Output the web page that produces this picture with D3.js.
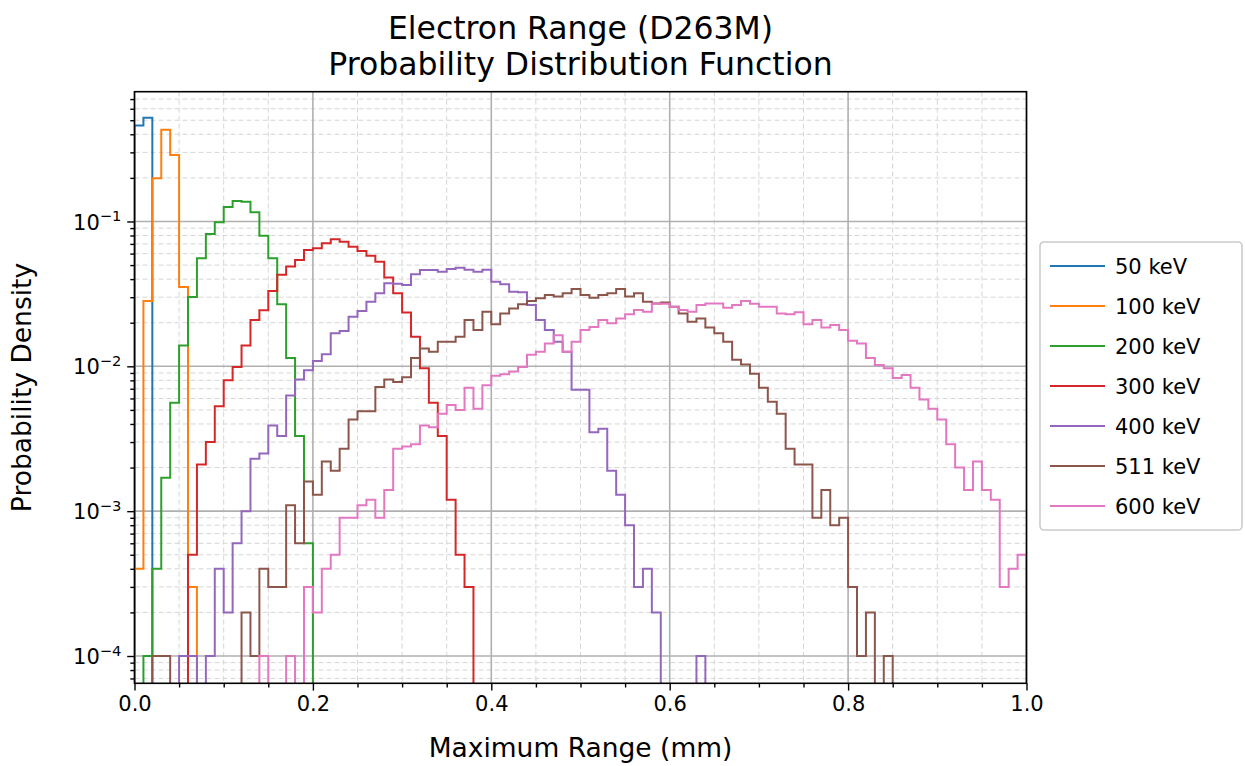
<!DOCTYPE html>
<html>
<head>
<meta charset="utf-8">
<script src="https://cdn.jsdelivr.net/npm/d3@7"></script>
<style>
  body { margin: 0; background: #fff; }
  svg { font-family: "DejaVu Sans", sans-serif; }
</style>
</head>
<body>
<svg id="chart" width="1245" height="766"></svg>
<script>
// Histogram bins: 100 bins of 0.01 mm covering 0 to 1 mm.
// Each array lists bin values from bin 0 onward; unlisted trailing bins are empty.
const binWidth = 0.01;
const binCount = 100;

const labels = ["50 keV", "100 keV", "200 keV", "300 keV", "400 keV", "511 keV", "600 keV"];
const colors = ["#1f77b4", "#ff7f0e", "#2ca02c", "#d62728", "#9467bd", "#8c564b", "#e377c2"];

const pdf50 = [0.459, 0.521];

const pdf100 = [0.0004, 0.0282, 0.199, 0.430, 0.288, 0.0353, 0.0003];

const pdf200 = [0, 0.0001, 0.0004, 0.0017, 0.0056, 0.0139, 0.0301, 0.0557, 0.082, 0.0987,
  0.126, 0.1385, 0.137, 0.1157, 0.0798, 0.0557, 0.0268, 0.0114, 0.0033, 0.0006];

const pdf300 = [0, 0, 0, 0, 0, 0, 0.0005, 0.0021, 0.0030, 0.0053,
  0.0080, 0.0099, 0.0139, 0.0209, 0.0244, 0.0331, 0.0428, 0.0488, 0.0542, 0.0636,
  0.0653, 0.0707, 0.0753, 0.0725, 0.0670, 0.0625, 0.0580, 0.0528, 0.0410, 0.0319,
  0.0235, 0.0160, 0.0097, 0.0056, 0.0033, 0.0012, 0.0005, 0.0003];

const pdf400 = [0, 0, 0, 0, 0, 0.0001, 0.0001, 0, 0.0001, 0.0004,
  0.0002, 0.0006, 0.0010, 0.0023, 0.0025, 0.0039, 0.0033, 0.0063, 0.0081, 0.0094,
  0.0109, 0.0121, 0.0169, 0.0175, 0.0220, 0.0241, 0.0279, 0.0319, 0.0374, 0.0372,
  0.0364, 0.0432, 0.0462, 0.0462, 0.0450, 0.0470, 0.0480, 0.0465, 0.0450, 0.0465,
  0.0384, 0.0368, 0.0327, 0.0324, 0.0265, 0.0209, 0.0178, 0.0148, 0.0126, 0.0069,
  0.0069, 0.0035, 0.0037, 0.0019, 0.0013, 0.0008, 0.0003, 0.0004, 0.0002, 0,
  0, 0, 0, 0.0001];

const pdf511 = [0, 0, 0.0001, 0.0001, 0, 0, 0, 0, 0, 0,
  0, 0, 0.0002, 0.0001, 0.0004, 0.0003, 0.0003, 0.0011, 0.0006, 0.0016,
  0.0013, 0.0022, 0.0019, 0.0027, 0.0043, 0.0049, 0.0049, 0.0072, 0.0081, 0.0078,
  0.0084, 0.0114, 0.0133, 0.0126, 0.0148, 0.0148, 0.0160, 0.0209, 0.0178, 0.0238,
  0.0195, 0.0232, 0.0251, 0.0268, 0.0282, 0.0295, 0.0311, 0.0303, 0.0319, 0.0342,
  0.0311, 0.0298, 0.0311, 0.0319, 0.0342, 0.0303, 0.0319, 0.0279, 0.0272, 0.0276,
  0.0258, 0.0232, 0.0203, 0.0214, 0.0185, 0.0169, 0.0148, 0.0111, 0.0103, 0.0089,
  0.0071, 0.0057, 0.0047, 0.0027, 0.0021, 0.0021, 0.0009, 0.0014, 0.0008, 0.0009,
  0.0003, 0.0001, 0.0002, 0, 0.0001];

const pdf600 = [0, 0, 0, 0, 0, 0, 0, 0, 0, 0,
  0, 0, 0, 0, 0.0001, 0, 0, 0.0001, 0, 0.0003,
  0.0002, 0.0004, 0.0005, 0.0009, 0.0009, 0.0011, 0.0012, 0.0009, 0.0014, 0.0027,
  0.0028, 0.0029, 0.0039, 0.0038, 0.0047, 0.0054, 0.0050, 0.0071, 0.0051, 0.0074,
  0.0086, 0.0088, 0.0092, 0.0099, 0.0120, 0.0126, 0.0144, 0.0164, 0.0126, 0.0148,
  0.0178, 0.0187, 0.0209, 0.0198, 0.0214, 0.0229, 0.0245, 0.0238, 0.0272, 0.0270,
  0.0258, 0.0245, 0.0238, 0.0265, 0.0272, 0.0272, 0.0254, 0.0265, 0.0282, 0.0270,
  0.0258, 0.0258, 0.0232, 0.0229, 0.0236, 0.0195, 0.0209, 0.0185, 0.0193, 0.0178,
  0.0150, 0.0144, 0.0114, 0.0102, 0.0097, 0.0083, 0.0087, 0.0071, 0.0059, 0.0051,
  0.0043, 0.0029, 0.0020, 0.0014, 0.0022, 0.0014, 0.0012, 0.0003, 0.0004, 0.0005];

const seriesValues = [pdf50, pdf100, pdf200, pdf300, pdf400, pdf511, pdf600];

// Axis ticks
const xMajorTicks = [0, 0.2, 0.4, 0.6, 0.8, 1.0];
const xMinorTicks = [0.05, 0.1, 0.15, 0.25, 0.3, 0.35, 0.45, 0.5, 0.55, 0.65, 0.7, 0.75, 0.85, 0.9, 0.95];
const yMajorTicks = [1e-4, 1e-3, 1e-2, 1e-1];
const yMajorExponents = ["−4", "−3", "−2", "−1"];
const yDomain = [6.48e-5, 0.787];

// Layout
const plot = { left: 134.5, right: 1026.5, top: 91.7, bottom: 683.3 };
const svg = d3.select("#chart");

const x = d3.scaleLinear().domain([0, 1]).range([plot.left, plot.right]);
const y = d3.scaleLog().domain(yDomain).range([plot.bottom, plot.top]);

const yMinorTicks = [];
for (let e = -5; e <= -1; e++) {
  for (let m = 2; m <= 9; m++) {
    const v = m * Math.pow(10, e);
    if (v >= yDomain[0] && v <= yDomain[1]) yMinorTicks.push(v);
  }
}

svg.append("defs").append("clipPath").attr("id", "plotClip")
  .append("rect")
  .attr("x", plot.left).attr("y", plot.top)
  .attr("width", plot.right - plot.left).attr("height", plot.bottom - plot.top);

// Grid: minor dashed, major solid
const grid = svg.append("g");
grid.selectAll(".gxm").data(xMinorTicks).join("line")
  .attr("x1", d => x(d)).attr("x2", d => x(d))
  .attr("y1", plot.top).attr("y2", plot.bottom)
  .attr("stroke", "#d6d6d6").attr("stroke-width", 1).attr("stroke-dasharray", "5,3");
grid.selectAll(".gym").data(yMinorTicks).join("line")
  .attr("x1", plot.left).attr("x2", plot.right)
  .attr("y1", d => y(d)).attr("y2", d => y(d))
  .attr("stroke", "#d6d6d6").attr("stroke-width", 1).attr("stroke-dasharray", "5,3");
grid.selectAll(".gxM").data(xMajorTicks).join("line")
  .attr("x1", d => x(d)).attr("x2", d => x(d))
  .attr("y1", plot.top).attr("y2", plot.bottom)
  .attr("stroke", "#b0b0b0").attr("stroke-width", 1.6);
grid.selectAll(".gyM").data(yMajorTicks).join("line")
  .attr("x1", plot.left).attr("x2", plot.right)
  .attr("y1", d => y(d)).attr("y2", d => y(d))
  .attr("stroke", "#b0b0b0").attr("stroke-width", 1.6);

// Step outlines of each histogram
const belowAxis = plot.bottom + 40;
const yv = v => (v > 0 ? y(v) : belowAxis);
const line = d3.line().x(d => d[0]).y(d => d[1]);

const lines = svg.append("g").attr("clip-path", "url(#plotClip)");
seriesValues.forEach((vals, s) => {
  const pts = [[x(0), belowAxis]];
  for (let i = 0; i < binCount; i++) {
    const v = i < vals.length ? vals[i] : 0;
    pts.push([x(i * binWidth), yv(v)]);
    pts.push([x((i + 1) * binWidth), yv(v)]);
  }
  pts.push([x(binCount * binWidth), belowAxis]);
  lines.append("path")
    .attr("d", line(pts))
    .attr("fill", "none")
    .attr("stroke", colors[s])
    .attr("stroke-width", 2)
    .attr("stroke-linejoin", "miter");
});

// Axes
const tickFont = 21;
const xAxis = d3.axisBottom(x).tickValues(xMajorTicks).tickSize(7.3).tickPadding(5.5)
  .tickFormat(d3.format(".1f"));
const xAxisMinor = d3.axisBottom(x).tickValues(xMinorTicks).tickSize(4.2).tickFormat("");
const yAxis = d3.axisLeft(y).tickValues(yMajorTicks).tickSize(7.3).tickPadding(5.8).tickFormat("");
const yAxisMinor = d3.axisLeft(y).tickValues(yMinorTicks).tickSize(4.2).tickFormat("");

function styleAxis(g) {
  g.select(".domain").remove();
  g.selectAll(".tick line").attr("stroke", "#000").attr("stroke-width", 1.4);
  g.selectAll(".tick text").attr("fill", "#000").attr("font-size", tickFont)
    .attr("font-family", "DejaVu Sans");
}

svg.append("g").attr("transform", `translate(0,${plot.bottom})`).call(xAxisMinor).call(styleAxis);
svg.append("g").attr("transform", `translate(0,${plot.bottom})`).call(xAxis).call(styleAxis);
svg.append("g").attr("transform", `translate(${plot.left},0)`).call(yAxisMinor).call(styleAxis);
const yg = svg.append("g").attr("transform", `translate(${plot.left},0)`).call(yAxis).call(styleAxis);

yg.selectAll(".tick text").each(function(d, i) {
  const t = d3.select(this);
  t.text(null).attr("dy", "0.36em");
  t.append("tspan").text("10");
  t.append("tspan").attr("dy", "-0.55em").attr("font-size", tickFont * 0.7).text(yMajorExponents[i]);
});

// Plot frame
svg.append("rect")
  .attr("x", plot.left).attr("y", plot.top)
  .attr("width", plot.right - plot.left).attr("height", plot.bottom - plot.top)
  .attr("fill", "none").attr("stroke", "#000").attr("stroke-width", 1.6);

// Axis labels
svg.append("text")
  .attr("x", (plot.left + plot.right) / 2).attr("y", 757)
  .attr("text-anchor", "middle").attr("font-size", 26.5).attr("fill", "#000")
  .text("Maximum Range (mm)");

svg.append("text")
  .attr("transform", `translate(31,${(plot.top + plot.bottom) / 2}) rotate(-90)`)
  .attr("text-anchor", "middle").attr("font-size", 26.5).attr("fill", "#000")
  .text("Probability Density");

// Title
const title = svg.append("text").attr("text-anchor", "middle").attr("font-size", 31.5).attr("fill", "#000");
title.append("tspan").attr("x", (plot.left + plot.right) / 2).attr("y", 39).text("Electron Range (D263M)");
title.append("tspan").attr("x", (plot.left + plot.right) / 2).attr("y", 75).text("Probability Distribution Function");

// Legend
const legend = svg.append("g").attr("transform", "translate(1040,242)");
legend.append("rect")
  .attr("width", 202).attr("height", 288).attr("rx", 4)
  .attr("fill", "#fff").attr("fill-opacity", 0.8)
  .attr("stroke", "#cccccc").attr("stroke-width", 1.6);
labels.forEach((lab, i) => {
  const cy = 24 + i * 40;
  legend.append("line")
    .attr("x1", 10).attr("x2", 65).attr("y1", cy).attr("y2", cy)
    .attr("stroke", colors[i]).attr("stroke-width", 2);
  legend.append("text")
    .attr("x", 75).attr("y", cy).attr("dy", "0.36em")
    .attr("font-size", tickFont).attr("fill", "#000").text(lab);
});
</script>
</body>
</html>
